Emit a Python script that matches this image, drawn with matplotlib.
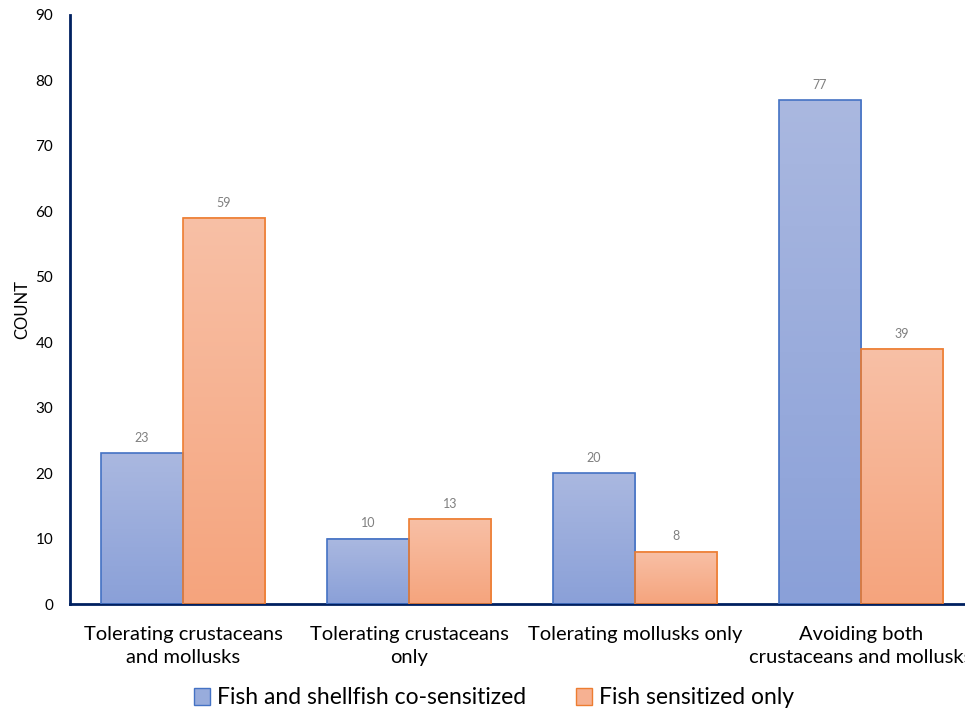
import numpy as np
import matplotlib.pyplot as plt
from matplotlib.colors import LinearSegmentedColormap
from matplotlib.patches import Patch

categories = ['Tolerating crustaceans\nand mollusks', 'Tolerating crustaceans\nonly',
              'Tolerating mollusks only', 'Avoiding both\ncrustaceans and mollusks']
co_sensitized = [23, 10, 20, 77]
fish_only = [59, 13, 8, 39]
series_names = ['Fish and shellfish co-sensitized', 'Fish sensitized only']

plt.rcParams['font.family'] = ['Lato', 'DejaVu Sans']

fig = plt.figure(figsize=(9.65, 7.1), dpi=100)
ax = fig.add_axes([70 / 965, 1 - 604 / 710, 904 / 965, 589 / 710])

blue_map = LinearSegmentedColormap.from_list('b', ['#8AA0D8', '#AAB8E0'])
orange_map = LinearSegmentedColormap.from_list('o', ['#F5A47D', '#F8C0A6'])
grad = np.linspace(0, 1, 256).reshape(-1, 1)

x = np.arange(len(categories))
width = 0.363


def gradient_bars(xs, values, cmap, edge):
    bars = ax.bar(xs, values, width, facecolor='none', edgecolor=edge, linewidth=1.2, zorder=3)
    for bar, v in zip(bars, values):
        x0 = bar.get_x()
        ax.imshow(grad, cmap=cmap, origin='lower', aspect='auto',
                  extent=[x0, x0 + width, 0, v], zorder=2)
        ax.text(x0 + width / 2, v + 1.4, str(v), ha='center', va='bottom',
                fontsize=9, color='#7F7F7F')
    return bars


gradient_bars(x - width / 2, co_sensitized, blue_map, '#4472C4')
gradient_bars(x + width / 2, fish_only, orange_map, '#ED7D31')

ax.set_xlim(-0.5, 3.5)
ax.set_ylim(0, 90)
ax.set_yticks(range(0, 91, 10))
ax.set_xticks(x)
ax.set_xticklabels(categories, fontsize=14.5, linespacing=1.4)
ax.tick_params(axis='both', length=0)
ax.tick_params(axis='y', labelsize=11, pad=12)
ax.tick_params(axis='x', pad=16)
ax.set_ylabel('COUNT', fontsize=12, labelpad=4)

for side in ['top', 'right']:
    ax.spines[side].set_visible(False)
for side in ['left', 'bottom']:
    ax.spines[side].set_color('#002060')
    ax.spines[side].set_linewidth(2)

handles = [Patch(facecolor='#98ACDC', edgecolor='#4472C4'),
           Patch(facecolor='#F6B192', edgecolor='#ED7D31')]
fig.legend(handles, series_names, loc='center', bbox_to_anchor=(494 / 965, 1 - 698 / 710),
           ncol=2, frameon=False, fontsize=16.5, handlelength=0.7, handleheight=0.7,
           handletextpad=0.3, columnspacing=2.15)

fig.savefig('out.png', dpi=100)
